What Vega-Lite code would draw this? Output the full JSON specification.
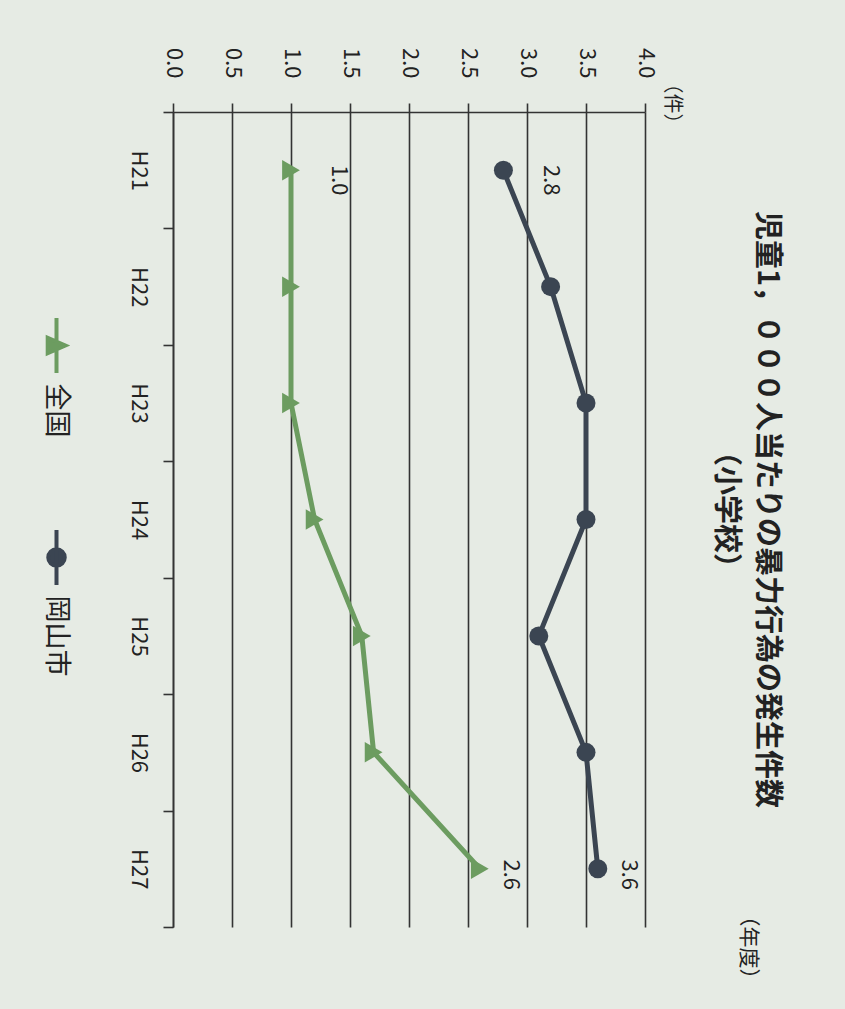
{
  "$schema": "https://vega.github.io/schema/vega-lite/v6.json",
  "width": 472,
  "height": 815,
  "autosize": {"type": "none"},
  "padding": {"left": 173, "top": 112, "right": 200, "bottom": 82},
  "background": "#e6ebe4",
  "config": {
    "view": {"stroke": null},
    "font": "Noto Sans CJK JP",
    "axis": {"labelColor": "#222222", "titleColor": "#222222", "domainColor": "#333333", "tickColor": "#333333", "domainWidth": 1.6, "tickWidth": 1.6}
  },
  "title": {
    "text": ["児童1，０００人当たりの暴力行為の発生件数", "（小学校）"],
    "orient": "right",
    "anchor": "middle",
    "frame": "group",
    "angle": 90,
    "fontSize": 29,
    "fontWeight": "bold",
    "lineHeight": 41,
    "offset": -47,
    "dx": -10,
    "color": "#222222"
  },
  "data": {
    "values": [
      {"year": "H21", "series": "全国", "value": 1.0},
      {"year": "H22", "series": "全国", "value": 1.0},
      {"year": "H23", "series": "全国", "value": 1.0},
      {"year": "H24", "series": "全国", "value": 1.2},
      {"year": "H25", "series": "全国", "value": 1.6},
      {"year": "H26", "series": "全国", "value": 1.7},
      {"year": "H27", "series": "全国", "value": 2.6},
      {"year": "H21", "series": "岡山市", "value": 2.8},
      {"year": "H22", "series": "岡山市", "value": 3.2},
      {"year": "H23", "series": "岡山市", "value": 3.5},
      {"year": "H24", "series": "岡山市", "value": 3.5},
      {"year": "H25", "series": "岡山市", "value": 3.1},
      {"year": "H26", "series": "岡山市", "value": 3.5},
      {"year": "H27", "series": "岡山市", "value": 3.6}
    ]
  },
  "encoding": {
    "y": {
      "field": "year",
      "type": "nominal",
      "sort": null,
      "scale": {"paddingInner": 0, "paddingOuter": 0},
      "axis": {
        "orient": "left",
        "tickBand": "extent",
        "tickSize": 10,
        "labelAngle": 90,
        "labelAlign": "center",
        "labelBaseline": "top",
        "labelPadding": 15,
        "labelFontSize": 22,
        "grid": false,
        "title": "（年度）",
        "titleAngle": 90,
        "titleX": 574,
        "titleY": 793,
        "titleAlign": "left",
        "titleBaseline": "middle",
        "titleFontSize": 21,
        "titleFontWeight": "normal"
      }
    },
    "x": {
      "field": "value",
      "type": "quantitative",
      "scale": {"domain": [0, 4], "nice": false, "zero": true},
      "axis": {
        "orient": "top",
        "values": [0, 0.5, 1, 1.5, 2, 2.5, 3, 3.5, 4],
        "format": ".1f",
        "tickSize": 9,
        "labelAngle": 90,
        "labelAlign": "right",
        "labelBaseline": "middle",
        "labelPadding": 25,
        "labelFontSize": 22,
        "grid": true,
        "gridColor": "#333333",
        "gridWidth": 1.6,
        "gridOpacity": 1,
        "title": "（件）",
        "titleAngle": 90,
        "titleX": 498,
        "titleY": -39,
        "titleAlign": "left",
        "titleBaseline": "middle",
        "titleFontSize": 20,
        "titleFontWeight": "normal"
      }
    },
    "color": {
      "field": "series",
      "type": "nominal",
      "scale": {"domain": ["全国", "岡山市"], "range": ["#6c9c60", "#3b4552"]},
      "legend": {
        "orient": "none",
        "legendX": -146,
        "legendY": 204,
        "title": null,
        "direction": "vertical",
        "padding": 0,
        "symbolSize": 3025,
        "symbolStrokeWidth": 4,
        "labelFontSize": 27,
        "labelColor": "#222222",
        "labelOffset": -30,
        "rowPadding": 84,
        "encoding": {
          "symbols": {
            "shape": {"condition": {"test": "datum.value === '全国'", "value": "M0,-1L0,1M-0.32,-0.28L0.32,0L-0.32,0.28Z"}, "value": "M0,-1L0,1M-0.3,0A0.3,0.3,0,1,0,0.3,0A0.3,0.3,0,1,0,-0.3,0Z"},
            "fill": {"condition": {"test": "datum.value === '全国'", "value": "#6c9c60"}, "value": "#3b4552"},
            "stroke": {"condition": {"test": "datum.value === '全国'", "value": "#6c9c60"}, "value": "#3b4552"},
            "strokeWidth": {"value": 4},
            "opacity": {"value": 1}
          },
          "labels": {
            "angle": {"value": 90},
            "align": {"value": "left"},
            "baseline": {"value": "middle"},
            "dx": {"value": 38}
          }
        }
      }
    }
  },
  "layer": [
    {
      "mark": {"type": "line", "strokeWidth": 5},
      "encoding": {
        "order": {"field": "year", "sort": "ascending"}
      }
    },
    {
      "transform": [{"filter": "datum.series === '全国'"}],
      "mark": {"type": "point", "filled": true, "opacity": 1, "size": 420, "shape": "triangle-right"}
    },
    {
      "transform": [{"filter": "datum.series === '岡山市'"}],
      "mark": {"type": "point", "filled": true, "opacity": 1, "size": 361, "shape": "circle"}
    },
    {
      "transform": [{"filter": "datum.year === 'H21'"}],
      "mark": {"type": "text", "angle": 90, "fontSize": 22, "align": "center", "baseline": "middle", "xOffset": 48, "yOffset": 10},
      "encoding": {"text": {"field": "value", "type": "quantitative", "format": ".1f"}, "color": {"value": "#222222"}}
    },
    {
      "transform": [{"filter": "datum.year === 'H27'"}],
      "mark": {"type": "text", "angle": 90, "fontSize": 22, "align": "center", "baseline": "middle", "xOffset": 31, "yOffset": 6},
      "encoding": {"text": {"field": "value", "type": "quantitative", "format": ".1f"}, "color": {"value": "#222222"}}
    }
  ]
}
